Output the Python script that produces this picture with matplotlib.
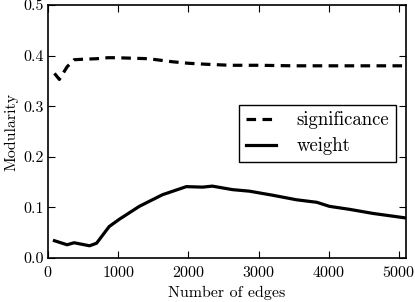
import matplotlib
matplotlib.use('Agg')
import matplotlib.pyplot as plt

# significance
sig_x = [90, 160, 270, 370, 500, 690, 850, 970, 1200, 1440, 1600, 1770, 2000, 2260, 2600, 3000, 3500, 4000, 4500, 5100]
sig_y = [0.365, 0.353, 0.378, 0.392, 0.393, 0.394, 0.396, 0.396, 0.395, 0.394, 0.391, 0.388, 0.385, 0.383, 0.381, 0.381, 0.380, 0.380, 0.380, 0.380]

# weight
w_x = [90, 270, 370, 590, 690, 870, 1010, 1300, 1630, 1970, 2200, 2340, 2630, 2870, 3200, 3540, 3830, 4010, 4300, 4630, 5100]
w_y = [0.034, 0.026, 0.030, 0.024, 0.029, 0.062, 0.076, 0.102, 0.125, 0.141, 0.140, 0.142, 0.135, 0.132, 0.124, 0.115, 0.110, 0.102, 0.096, 0.088, 0.079]

plt.rcParams['font.family'] = 'serif'
plt.rcParams['font.serif'] = ['cmr10']
plt.rcParams['mathtext.fontset'] = 'cm'
plt.rcParams['axes.formatter.use_mathtext'] = True
plt.rcParams['font.size'] = 11.5
plt.rcParams['xtick.direction'] = 'in'
plt.rcParams['ytick.direction'] = 'in'
plt.rcParams['xtick.top'] = True
plt.rcParams['ytick.right'] = True

fig = plt.figure(figsize=(4.15, 3.02), dpi=100)
ax = fig.add_axes([0.116, 0.146, 0.862, 0.837])

ax.plot(sig_x, sig_y, '--', color='black', lw=2.3, dashes=(3, 2), label='significance')
ax.plot(w_x, w_y, '-', color='black', lw=2.3, label='weight')

ax.set_xlim(0, 5100)
ax.set_ylim(0, 0.5)
ax.set_xticks([0, 1000, 2000, 3000, 4000, 5000])
ax.set_yticks([0.0, 0.1, 0.2, 0.3, 0.4, 0.5])
ax.set_yticklabels(['0.0', '0.1', '0.2', '0.3', '0.4', '0.5'])
ax.tick_params(axis='x', length=5, width=0.8, pad=5)
ax.tick_params(axis='y', length=5, width=0.8, pad=3)
for s in ax.spines.values():
    s.set_linewidth(1.2)

ax.set_xlabel('Number of edges', labelpad=4)
ax.set_ylabel('Modularity', labelpad=4)

leg = ax.legend(loc='lower right', bbox_to_anchor=(0.972, 0.38), fontsize=13.5,
                fancybox=False, framealpha=1, edgecolor='black', borderaxespad=0,
                handlelength=1.6, handletextpad=1.1, borderpad=0.35, labelspacing=0.42)
leg.get_frame().set_linewidth(1.0)

fig.savefig('out.png', dpi=100)
